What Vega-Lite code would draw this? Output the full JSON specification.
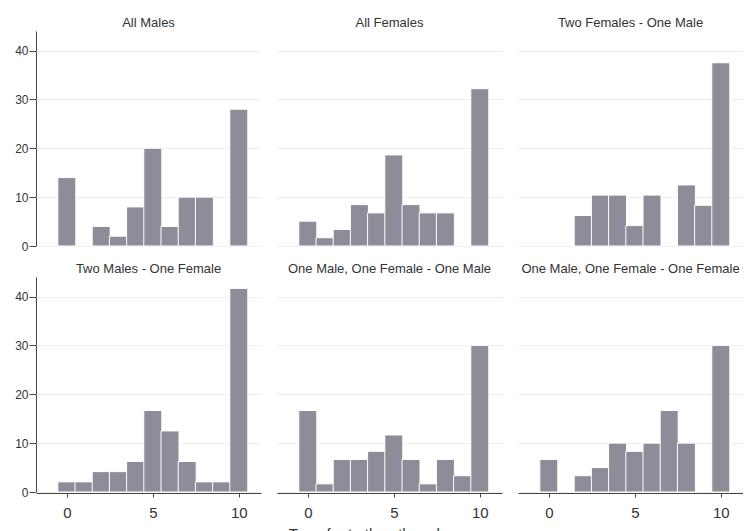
{
  "$schema": "https://vega.github.io/schema/vega-lite/v6.json",
  "background": "white",
  "padding": {"left": 14, "top": 17, "right": 0, "bottom": 0},
  "title": {
    "text": "Transfer to the other player",
    "orient": "bottom",
    "anchor": "middle",
    "fontSize": 15,
    "fontWeight": "normal",
    "color": "#333333",
    "offset": 7,
    "dx": 0
  },
  "data": {
    "values": [
      {"panel": "All Males", "score": 0, "pct": 14},
      {"panel": "All Males", "score": 2, "pct": 4},
      {"panel": "All Males", "score": 3, "pct": 2},
      {"panel": "All Males", "score": 4, "pct": 8},
      {"panel": "All Males", "score": 5, "pct": 20},
      {"panel": "All Males", "score": 6, "pct": 4},
      {"panel": "All Males", "score": 7, "pct": 10},
      {"panel": "All Males", "score": 8, "pct": 10},
      {"panel": "All Males", "score": 10, "pct": 28},

      {"panel": "All Females", "score": 0, "pct": 5.08},
      {"panel": "All Females", "score": 1, "pct": 1.69},
      {"panel": "All Females", "score": 2, "pct": 3.39},
      {"panel": "All Females", "score": 3, "pct": 8.47},
      {"panel": "All Females", "score": 4, "pct": 6.78},
      {"panel": "All Females", "score": 5, "pct": 18.64},
      {"panel": "All Females", "score": 6, "pct": 8.47},
      {"panel": "All Females", "score": 7, "pct": 6.78},
      {"panel": "All Females", "score": 8, "pct": 6.78},
      {"panel": "All Females", "score": 10, "pct": 32.2},

      {"panel": "Two Females - One Male", "score": 2, "pct": 6.25},
      {"panel": "Two Females - One Male", "score": 3, "pct": 10.42},
      {"panel": "Two Females - One Male", "score": 4, "pct": 10.42},
      {"panel": "Two Females - One Male", "score": 5, "pct": 4.17},
      {"panel": "Two Females - One Male", "score": 6, "pct": 10.42},
      {"panel": "Two Females - One Male", "score": 8, "pct": 12.5},
      {"panel": "Two Females - One Male", "score": 9, "pct": 8.33},
      {"panel": "Two Females - One Male", "score": 10, "pct": 37.5},

      {"panel": "Two Males - One Female", "score": 0, "pct": 2.08},
      {"panel": "Two Males - One Female", "score": 1, "pct": 2.08},
      {"panel": "Two Males - One Female", "score": 2, "pct": 4.17},
      {"panel": "Two Males - One Female", "score": 3, "pct": 4.17},
      {"panel": "Two Males - One Female", "score": 4, "pct": 6.25},
      {"panel": "Two Males - One Female", "score": 5, "pct": 16.67},
      {"panel": "Two Males - One Female", "score": 6, "pct": 12.5},
      {"panel": "Two Males - One Female", "score": 7, "pct": 6.25},
      {"panel": "Two Males - One Female", "score": 8, "pct": 2.08},
      {"panel": "Two Males - One Female", "score": 9, "pct": 2.08},
      {"panel": "Two Males - One Female", "score": 10, "pct": 41.67},

      {"panel": "One Male, One Female - One Male", "score": 0, "pct": 16.67},
      {"panel": "One Male, One Female - One Male", "score": 1, "pct": 1.67},
      {"panel": "One Male, One Female - One Male", "score": 2, "pct": 6.67},
      {"panel": "One Male, One Female - One Male", "score": 3, "pct": 6.67},
      {"panel": "One Male, One Female - One Male", "score": 4, "pct": 8.33},
      {"panel": "One Male, One Female - One Male", "score": 5, "pct": 11.67},
      {"panel": "One Male, One Female - One Male", "score": 6, "pct": 6.67},
      {"panel": "One Male, One Female - One Male", "score": 7, "pct": 1.67},
      {"panel": "One Male, One Female - One Male", "score": 8, "pct": 6.67},
      {"panel": "One Male, One Female - One Male", "score": 9, "pct": 3.33},
      {"panel": "One Male, One Female - One Male", "score": 10, "pct": 30},

      {"panel": "One Male, One Female - One Female", "score": 0, "pct": 6.67},
      {"panel": "One Male, One Female - One Female", "score": 2, "pct": 3.33},
      {"panel": "One Male, One Female - One Female", "score": 3, "pct": 5},
      {"panel": "One Male, One Female - One Female", "score": 4, "pct": 10},
      {"panel": "One Male, One Female - One Female", "score": 5, "pct": 8.33},
      {"panel": "One Male, One Female - One Female", "score": 6, "pct": 10},
      {"panel": "One Male, One Female - One Female", "score": 7, "pct": 16.67},
      {"panel": "One Male, One Female - One Female", "score": 8, "pct": 10},
      {"panel": "One Male, One Female - One Female", "score": 10, "pct": 30}
    ]
  },
  "facet": {
    "field": "panel",
    "type": "nominal",
    "sort": [
      "All Males",
      "All Females",
      "Two Females - One Male",
      "Two Males - One Female",
      "One Male, One Female - One Male",
      "One Male, One Female - One Female"
    ],
    "header": {
      "title": null,
      "labelFont": "Liberation Sans",
      "labelFontSize": 13,
      "labelColor": "#333333",
      "labelPadding": 1
    }
  },
  "columns": 3,
  "spacing": {"row": 16, "column": 16},
  "spec": {
    "width": 225,
    "height": 215,
    "mark": {
      "type": "bar",
      "width": 18,
      "color": "#8d8d99",
      "stroke": "#ffffff",
      "strokeWidth": 1
    },
    "encoding": {
      "x": {
        "field": "score",
        "type": "quantitative",
        "scale": {"domain": [-1.5, 11], "nice": false, "zero": false},
        "axis": {
          "values": [0, 5, 10],
          "grid": false,
          "labelFontSize": 15,
          "labelColor": "#333333",
          "tickSize": 4,
          "labelPadding": 8,
          "domainColor": "#444444",
          "tickColor": "#444444",
          "title": null
        }
      },
      "y": {
        "field": "pct",
        "type": "quantitative",
        "scale": {"domain": [0, 44], "nice": false},
        "axis": {
          "values": [0, 10, 20, 30, 40],
          "title": null,
          "grid": true,
          "gridColor": "#eeeeee",
          "labelFontSize": 12,
          "labelColor": "#333333",
          "tickSize": 7,
          "labelPadding": 1,
          "domainColor": "#444444",
          "tickColor": "#444444"
        }
      }
    }
  },
  "config": {
    "font": "Liberation Sans",
    "view": {"stroke": null}
  }
}
